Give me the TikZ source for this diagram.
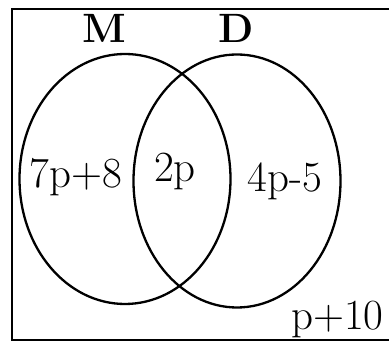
\documentclass[tikz,border=0pt]{standalone}
\usepackage{tikz}
\usetikzlibrary{shapes.geometric}
\tikzset{
  setshape/.style={draw, ellipse, line width=2.3pt, inner sep=0pt},
  setname/.style={anchor=base, inner sep=0pt,
                  font=\fontsize{41}{41}\selectfont\bfseries},
  region/.style={anchor=base, inner sep=0pt,
                 font=\fontsize{43}{43}\selectfont},
  frame/.style={line width=2.5pt}
}
\begin{document}
\begin{tikzpicture}[x=1pt, y=-1pt]
  \useasboundingbox (0,0) rectangle (389,344);
  % universal set (cut off at the right)
  \draw[frame] (389,9) -- (12,9) -- (12,340) -- (389,340);
  % the two sets
  \node[setshape, minimum width=211pt, minimum height=250pt] (setM) at (125,179) {};
  \node[setshape, minimum width=207pt, minimum height=253pt] (setD) at (237,181) {};
  \node[setname] (nameM) at (104,43) {M};
  \node[setname] (nameD) at (236,43) {D};
  % regions
  \node[region] (onlyM) at (76,188) {7p+8};
  \node[region] (both) at (175,182) {2p};
  \node[region] (onlyD) at (285,192) {4p-5};
  \node[region, anchor=base west] (none) at (291,330) {p+10};
\end{tikzpicture}
\end{document}
